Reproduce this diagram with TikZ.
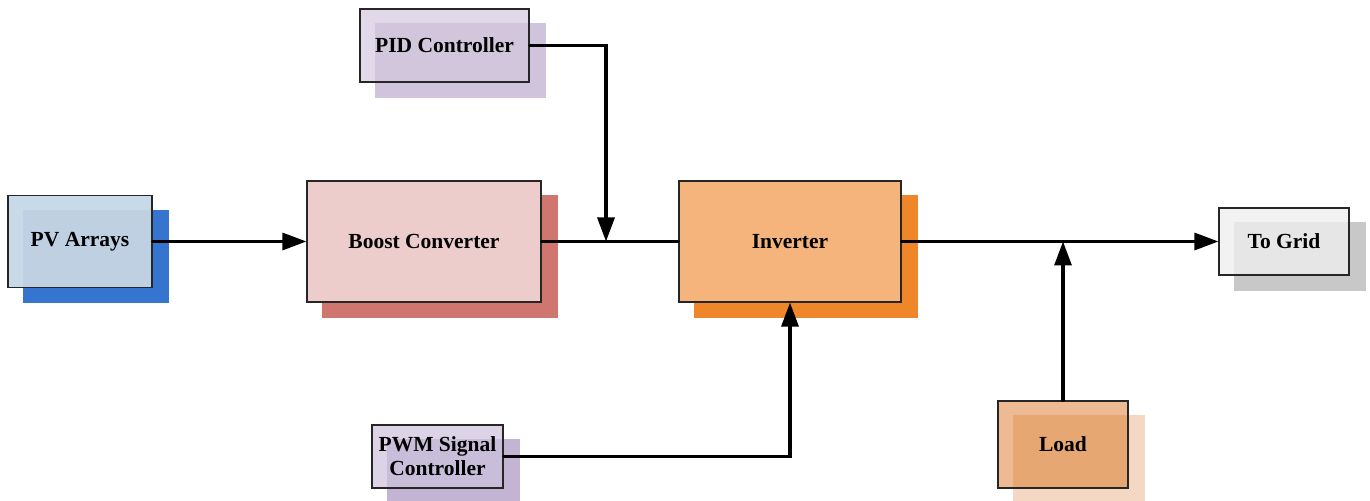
\documentclass[tikz,border=0pt]{standalone}
\usepackage{fontspec}
\setmainfont{Liberation Serif}
\usetikzlibrary{arrows.meta,backgrounds}

% front / shadow / overlap colours of the blocks
\definecolor{pvF}{HTML}{C8D9E8}\definecolor{pvS}{HTML}{3575D0}\definecolor{pvO}{HTML}{BFD0E2}
\definecolor{bcF}{HTML}{EDCDCB}\definecolor{bcS}{HTML}{CF766E}\definecolor{bcO}{HTML}{EDCDCB}
\definecolor{ivF}{HTML}{F6B47D}\definecolor{ivS}{HTML}{F0862A}\definecolor{ivO}{HTML}{F6B47D}
\definecolor{pdF}{HTML}{E1D9E9}\definecolor{pdS}{HTML}{D0C4DC}\definecolor{pdO}{HTML}{D2C6DC}
\definecolor{pwF}{HTML}{DCD3E6}\definecolor{pwS}{HTML}{C4B4D4}\definecolor{pwO}{HTML}{C9BEDA}
\definecolor{ldF}{HTML}{EEBA93}\definecolor{ldS}{HTML}{F5D8C3}\definecolor{ldO}{HTML}{E6A773}
\definecolor{grF}{HTML}{F2F2F2}\definecolor{grS}{HTML}{C8C8C8}\definecolor{grO}{HTML}{E6E6E6}

\begin{document}
\begin{tikzpicture}[x=0.5pt, y=-0.5pt,
  blk/.style={draw=black!85, line width=0.6pt, inner sep=0pt, align=center,
    font=\fontsize{10.75}{12}\selectfont\bfseries},
  conn/.style={line width=1.6pt, line cap=round},
  tip/.style={-{Triangle[length=12pt, width=8.5pt]}}]

\useasboundingbox (0,0) rectangle (1370,501);

% Offset of the shadows
\def\dx{16}
\def\dy{15}

% The blocks
\node[blk, minimum width=72pt,  minimum height=46pt]   (pv)    at (80,241.5)    {PV Arrays};
\node[blk, minimum width=117pt, minimum height=60.5pt] (boost) at (424,241.5)   {Boost Converter};
\node[blk, minimum width=111pt, minimum height=60.5pt] (inv)   at (790,241.5)   {Inverter};
\node[blk, minimum width=84.5pt, minimum height=36.5pt] (pid)  at (444.5,45.5)  {PID Controller};
\node[blk, minimum width=65.5pt, minimum height=31.5pt] (pwm)  at (437.5,456.5) {PWM Signal\\Controller};
\node[blk, minimum width=65pt,  minimum height=43.5pt] (load)  at (1063,444.5)  {Load};
\node[blk, minimum width=65pt,  minimum height=33.5pt] (grid)  at (1284,241.5)  {To Grid};

% Fills and shadows behind the blocks
\begin{scope}[on background layer]
\foreach \n/\c in {pv/pv, boost/bc, inv/iv, pid/pd, pwm/pw, load/ld, grid/gr}
{
  \fill[\c S] ([shift={(\dx,\dy)}]\n.north west) rectangle ([shift={(\dx,\dy)}]\n.south east);
  \fill[\c F] (\n.north west) rectangle (\n.south east);
  \fill[\c O] ([shift={(\dx,\dy)}]\n.north west) rectangle (\n.south east);
}
\end{scope}

% Junctions on the main line
\coordinate (jpid)  at (606,241.5);
\coordinate (jload) at (1063,241.5);

% Draw the connectors
\draw[conn, tip] (pv.east) -- (boost.west);
\draw[conn] (boost.east) -- (inv.west);
\draw[conn, tip] (pid.east) -| (jpid);
\draw[conn, tip] (inv.east) -- (grid.west);
\draw[conn, tip] (load.north) -- (jload);
\draw[conn, tip] (pwm.east) -| (inv.south);

\end{tikzpicture}
\end{document}
